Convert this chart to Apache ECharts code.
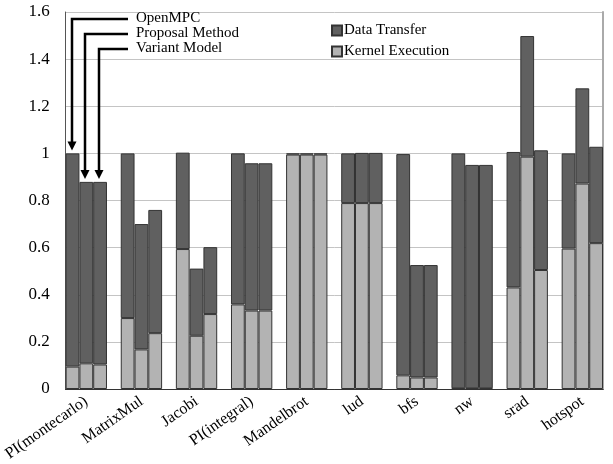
<!DOCTYPE html>
<html>
<head>
<meta charset="utf-8">
<script src="https://cdn.jsdelivr.net/npm/echarts@6/dist/echarts.min.js"></script>
<style>
  html, body { margin: 0; padding: 0; background: #fff; }
  #chart { width: 613px; height: 464px; }
</style>
</head>
<body>
<div id="chart"></div>
<script>
const categories = ['PI(montecarlo)', 'MatrixMul', 'Jacobi', 'PI(integral)', 'Mandelbrot', 'lud', 'bfs', 'nw', 'srad', 'hotspot'];
const models = ['OpenMPC', 'Proposal Method', 'Variant Model'];
const yTicks = [0, 0.2, 0.4, 0.6, 0.8, 1, 1.2, 1.4, 1.6];

// kernel execution / data transfer per model, one value per category
const kernelOpenMPC   = [0.095, 0.301, 0.594, 0.359, 0.995, 0.789, 0.058, 0.003, 0.431, 0.596];
const transferOpenMPC = [0.905, 0.699, 0.409, 0.641, 0.005, 0.211, 0.939, 0.997, 0.575, 0.404];
const kernelProposal   = [0.109, 0.168, 0.226, 0.333, 0.995, 0.789, 0.049, 0.003, 0.986, 0.872];
const transferProposal = [0.770, 0.532, 0.285, 0.625, 0.005, 0.213, 0.477, 0.948, 0.512, 0.404];
const kernelVariant   = [0.104, 0.237, 0.318, 0.333, 0.995, 0.789, 0.049, 0.003, 0.505, 0.619];
const transferVariant = [0.775, 0.523, 0.284, 0.625, 0.005, 0.213, 0.477, 0.948, 0.508, 0.409];

const kernelAll = [kernelOpenMPC, kernelProposal, kernelVariant];
const transferAll = [transferOpenMPC, transferProposal, transferVariant];

// one slot per bar, with an empty slot between groups
let slots = [], slotLabel = [], kernelData = [], transferData = [], firstGroupSlots = [];
categories.forEach((c, g) => {
  for (let m = 0; m < 3; m++) {
    if (g === 0) firstGroupSlots.push(slots.length);
    slots.push('s' + slots.length);
    slotLabel.push(m === 1 ? c : '');
    kernelData.push(kernelAll[m][g]);
    transferData.push(transferAll[m][g]);
  }
  if (g < categories.length - 1) {
    slots.push('s' + slots.length);
    slotLabel.push('');
    kernelData.push('-');
    transferData.push('-');
  }
});

const font = 'Liberation Serif';
const chart = echarts.init(document.getElementById('chart'));

const option = {
  animation: false,
  backgroundColor: '#fff',
  grid: { left: 60, right: 10, top: 12, bottom: 75 },
  legend: {
    orient: 'vertical',
    left: 326,
    top: 18,
    itemWidth: 10,
    itemHeight: 10,
    itemGap: 6,
    icon: 'rect',
    data: ['Data Transfer', 'Kernel Execution'],
    textStyle: { fontFamily: font, fontSize: 15, color: '#000', padding: [0, 0, 0, -3] }
  },
  xAxis: [{
    type: 'category',
    data: slots,
    boundaryGap: true,
    axisLine: { show: true, lineStyle: { color: '#333', width: 1 } },
    axisTick: { show: false },
    axisLabel: {
      interval: 0,
      rotate: 35,
      margin: 11,
      fontFamily: font,
      fontSize: 16,
      color: '#000',
      formatter: (v, i) => slotLabel[i]
    },
    splitLine: { show: false }
  }, {
    type: 'category',
    data: slots,
    position: 'top',
    axisLine: { show: true, lineStyle: { color: '#333', width: 1 } },
    axisTick: { show: false },
    axisLabel: { show: false }
  }],
  yAxis: [{
    type: 'value',
    min: 0,
    max: 1.6,
    interval: 0.2,
    axisLine: { show: true, lineStyle: { color: '#555', width: 1 } },
    axisTick: { show: false },
    axisLabel: {
      margin: 16,
      fontFamily: font,
      fontSize: 17,
      color: '#000',
      formatter: v => {
        const t = yTicks.find(x => Math.abs(x - v) < 1e-6);
        return t === undefined ? '' : String(t);
      }
    },
    splitLine: { show: true, lineStyle: { color: '#c4c4c4', width: 1 } }
  }, {
    type: 'value',
    min: 0,
    max: 1.6,
    position: 'right',
    axisLine: { show: true, lineStyle: { color: '#aaa', width: 2 } },
    axisTick: { show: false },
    axisLabel: { show: false },
    splitLine: { show: false }
  }],
  series: [{
    name: 'Kernel Execution',
    type: 'bar',
    stack: 'a',
    barCategoryGap: '0%',
    itemStyle: { color: '#b3b3b3', borderColor: '#333', borderWidth: 1 },
    data: kernelData
  }, {
    name: 'Data Transfer',
    type: 'bar',
    stack: 'a',
    barCategoryGap: '0%',
    itemStyle: { color: '#606060', borderColor: '#333', borderWidth: 1 },
    data: transferData
  }]
};
chart.setOption(option);

// arrows from the model names down to the first group's bars
const textX = 136, lineStartX = 128;
const textY = [19, 34, 49];
let graphics = [];
models.forEach((name, m) => {
  const s = firstGroupSlots[m];
  const total = kernelAll[m][0] + transferAll[m][0];
  const p = chart.convertToPixel({ xAxisIndex: 0, yAxisIndex: 0 }, [s, total]);
  const cx = Math.round(p[0]) - 1;
  const tip = p[1] - 3;
  graphics.push({
    type: 'polyline',
    shape: { points: [[lineStartX, textY[m]], [cx, textY[m]], [cx, tip - 7]] },
    style: { stroke: '#000', lineWidth: 2.5, fill: null }
  });
  graphics.push({
    type: 'polygon',
    shape: { points: [[cx - 4.5, tip - 9], [cx + 4.5, tip - 9], [cx, tip]] },
    style: { fill: '#000' }
  });
  graphics.push({
    type: 'text',
    left: textX,
    top: textY[m] - 8,
    style: { text: name, fontFamily: font, fontSize: 15, fill: '#000' }
  });
});
chart.setOption({ graphic: graphics });
</script>
</body>
</html>
